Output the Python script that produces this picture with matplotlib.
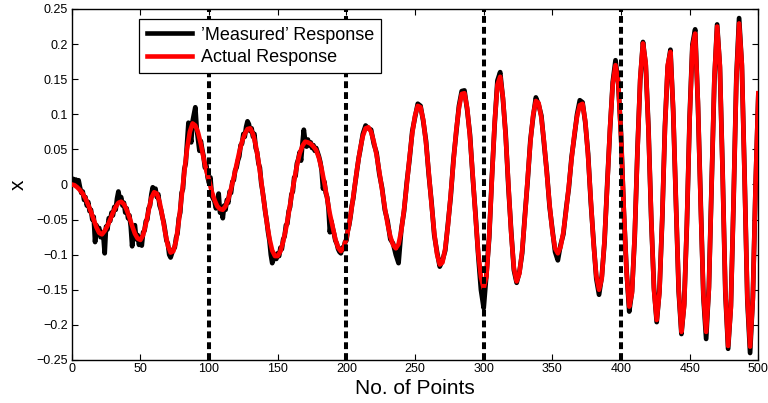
import numpy as np
import matplotlib
matplotlib.use("Agg")
import matplotlib.pyplot as plt
from matplotlib.ticker import FuncFormatter

plt.rcParams['font.family'] = ['Liberation Sans', 'DejaVu Sans']

# ---------------- data ----------------
# Actual response, sampled every 2 points (0..500)
actual_x = np.arange(0, 501, 2)
actual_y = [
    0.000, -0.001, -0.004, -0.008, -0.013, -0.020, -0.029, -0.039, -0.050, -0.061,
    -0.069, -0.071, -0.066, -0.059, -0.050, -0.040, -0.032, -0.026, -0.0245, -0.028,
    -0.036, -0.047, -0.059, -0.070, -0.077, -0.079, -0.072, -0.056, -0.037, -0.019,
    -0.011, -0.013, -0.025, -0.045, -0.068, -0.087, -0.097, -0.095, -0.080, -0.052,
    -0.018, 0.018, 0.051, 0.075, 0.087, 0.084, 0.074, 0.058, 0.038, 0.020,
    0.006, -0.010, -0.022, -0.031, -0.035, -0.036, -0.031, -0.021, -0.006, 0.010,
    0.028, 0.046, 0.061, 0.072, 0.079, 0.080, 0.072, 0.056, 0.033, 0.005,
    -0.025, -0.053, -0.077, -0.094, -0.102, -0.102, -0.095, -0.081, -0.063, -0.041,
    -0.017, 0.006, 0.027, 0.044, 0.055, 0.061, 0.060, 0.058, 0.054, 0.049,
    0.038, 0.022, 0.002, -0.020, -0.042, -0.060, -0.078, -0.090, -0.095, -0.090,
    -0.077, -0.057, -0.032, -0.004, 0.025, 0.050, 0.069, 0.080, 0.0815, 0.075,
    0.061, 0.042, 0.018, -0.008, -0.033, -0.056, -0.074, -0.086, -0.091, -0.085,
    -0.066, -0.036, 0.000, 0.039, 0.073, 0.098, 0.112, 0.110, 0.092, 0.059,
    0.017, -0.028, -0.069, -0.099, -0.114, -0.111, -0.091, -0.058, -0.014, 0.033,
    0.077, 0.109, 0.129, 0.130, 0.109, 0.068, 0.014, -0.044, -0.097, -0.132,
    -0.148, -0.131, -0.073, 0.009, 0.089, 0.142, 0.1535, 0.124, 0.069, -0.001,
    -0.069, -0.119, -0.138, -0.127, -0.095, -0.047, 0.008, 0.060, 0.099, 0.119,
    0.116, 0.095, 0.060, 0.015, -0.029, -0.067, -0.091, -0.098, -0.089, -0.068,
    -0.038, -0.002, 0.036, 0.071, 0.097, 0.113, 0.115, 0.090, 0.041, -0.022,
    -0.084, -0.130, -0.150, -0.134, -0.079, -0.001, 0.081, 0.143, 0.170, 0.146,
    0.069, -0.033, -0.124, -0.174, -0.155, -0.071, 0.047, 0.152, 0.201, 0.173,
    0.077, -0.046, -0.150, -0.193, -0.154, -0.048, 0.080, 0.170, 0.189, 0.107,
    -0.025, -0.149, -0.210, -0.173, -0.053, 0.094, 0.196, 0.215, 0.118, -0.028,
    -0.157, -0.210, -0.149, -0.001, 0.152, 0.225, 0.170, 0.015, -0.152, -0.230,
    -0.176, -0.019, 0.149, 0.2295, 0.172, 0.009, -0.161, -0.231, -0.164, 0.000,
    0.130,
]

# 'Measured' response: every point for 0..210, every 2 points for 212..500
measured_x = np.concatenate([np.arange(0, 211, 1), np.arange(212, 501, 2)])
measured_y = [
    0.004, 0.008, 0.003, 0.007, 0.002, 0.006, -0.004, -0.012, -0.010, -0.022,
    -0.018, -0.030, -0.025, -0.038, -0.036, -0.050, -0.046, -0.082, -0.058, -0.066,
    -0.062, -0.075, -0.068, -0.072, -0.098, -0.060, -0.064, -0.048, -0.052, -0.040,
    -0.044, -0.032, -0.036, -0.020, -0.010, -0.022, -0.018, -0.030, -0.026, -0.040,
    -0.034, -0.048, -0.044, -0.060, -0.088, -0.062, -0.058, -0.078, -0.072, -0.086,
    -0.076, -0.087, -0.068, -0.066, -0.052, -0.050, -0.034, -0.030, -0.014, -0.004,
    -0.012, -0.006, -0.018, -0.014, -0.030, -0.036, -0.046, -0.054, -0.066, -0.080,
    -0.084, -0.100, -0.104, -0.098, -0.092, -0.090, -0.076, -0.070, -0.048, -0.040,
    -0.012, -0.006, 0.022, 0.030, 0.060, 0.088, 0.072, 0.060, 0.090, 0.100,
    0.110, 0.080, 0.064, 0.048, 0.062, 0.050, 0.040, 0.024, 0.028, 0.010,
    0.002, 0.010, -0.016, -0.020, -0.024, -0.034, -0.028, -0.013, -0.040, -0.034,
    -0.048, -0.030, -0.036, -0.022, -0.026, -0.010, -0.012, 0.004, 0.006, 0.020,
    0.024, 0.034, 0.040, 0.056, 0.058, 0.072, 0.068, 0.082, 0.090, 0.086,
    0.076, 0.080, 0.068, 0.072, 0.052, 0.046, 0.030, 0.024, 0.002, -0.010,
    -0.024, -0.040, -0.052, -0.068, -0.080, -0.100, -0.112, -0.106, -0.100, -0.106,
    -0.098, -0.102, -0.090, -0.092, -0.078, -0.074, -0.058, -0.056, -0.038, -0.032,
    -0.014, -0.010, 0.010, 0.012, 0.030, 0.036, 0.046, 0.034, 0.058, 0.078,
    0.062, 0.054, 0.064, 0.056, 0.060, 0.052, 0.056, 0.048, 0.052, 0.046,
    0.040, 0.032, 0.020, -0.006, 0.004, -0.012, -0.018, -0.034, -0.068, -0.052,
    -0.062, -0.070, -0.080, -0.084, -0.092, -0.096, -0.098, -0.090, -0.092, -0.082,
    -0.080, -0.066, -0.058, -0.046, -0.030, -0.020, -0.004, 0.010, 0.024, 0.038,
    0.048,
    # 212 .. 500 step 2
    0.072, 0.084, 0.080, 0.078, 0.058, 0.045, 0.015, -0.005, -0.036, -0.052,
    -0.078, -0.084, -0.100, -0.112, -0.064, -0.038, 0.003, 0.036, 0.076, 0.096,
    0.115, 0.112, 0.090, 0.062, 0.014, -0.025, -0.072, -0.096, -0.117, -0.108,
    -0.094, -0.055, -0.017, 0.036, 0.074, 0.112, 0.133, 0.134, 0.106, 0.071,
    0.011, -0.041, -0.100, -0.150, -0.176, -0.128, -0.076, 0.012, 0.086, 0.148,
    0.160, 0.122, 0.072, -0.004, -0.066, -0.122, -0.140, -0.125, -0.098, -0.044,
    0.005, 0.063, 0.096, 0.124, 0.114, 0.098, 0.057, 0.018, -0.032, -0.064,
    -0.096, -0.108, -0.086, -0.071, -0.035, -0.005, 0.039, 0.068, 0.100, 0.120,
    0.117, 0.088, 0.044, -0.025, -0.081, -0.134, -0.157, -0.131, -0.082, 0.002,
    0.078, 0.146, 0.177, 0.143, 0.072, -0.036, -0.121, -0.181, -0.152, -0.074,
    0.050, 0.149, 0.203, 0.170, 0.080, -0.049, -0.147, -0.196, -0.151, -0.051,
    0.083, 0.167, 0.192, 0.104, -0.022, -0.152, -0.213, -0.170, -0.056, 0.097,
    0.199, 0.221, 0.115, -0.025, -0.160, -0.220, -0.146, 0.002, 0.149, 0.228,
    0.167, 0.018, -0.155, -0.234, -0.173, -0.022, 0.152, 0.237, 0.169, 0.012,
    -0.164, -0.240, -0.161, -0.003, 0.127,
]

segment_bounds = [100, 200, 300, 400]
x_ticks = [0, 50, 100, 150, 200, 250, 300, 350, 400, 450, 500]
y_ticks = [-0.25, -0.2, -0.15, -0.1, -0.05, 0, 0.05, 0.1, 0.15, 0.2, 0.25]
legend_labels = ["\u2019Measured\u2019 Response", "Actual Response"]

# ---------------- figure ----------------
fig = plt.figure(figsize=(7.68, 4.03), dpi=100)
ax = fig.add_axes([0.0934, 0.1067, 0.8940, 0.8710])

ax.plot(measured_x, measured_y, color='black', lw=3.4, solid_joinstyle='round',
        label=legend_labels[0], zorder=2)
ax.plot(actual_x, actual_y, color='red', lw=3.3, solid_joinstyle='round',
        label=legend_labels[1], zorder=3)
for b in segment_bounds:
    ax.axvline(b, color='black', lw=2.9, dashes=[1.7, 1.0], zorder=4)

ax.set_xlim(0, 500)
ax.set_ylim(-0.25, 0.25)
ax.set_xticks(x_ticks)
ax.set_yticks(y_ticks)


def yfmt(v, pos):
    if abs(v) < 1e-9:
        return "0"
    return f"{round(v, 3):g}".replace('-', '\u2212')


ax.yaxis.set_major_formatter(FuncFormatter(yfmt))
ax.tick_params(direction='in', length=4, width=0.8, labelsize=9,
               top=True, right=True, pad=3)
ax.tick_params(axis='x', pad=2)
for s in ax.spines.values():
    s.set_linewidth(1.0)

ax.set_xlabel("No. of Points", fontsize=15, labelpad=3)
ax.set_ylabel("x", fontsize=15, labelpad=6, rotation=90)

leg = ax.legend(loc='upper left', bbox_to_anchor=(0.0985, 0.9706),
                borderaxespad=0, fontsize=13, frameon=True, fancybox=False,
                framealpha=1.0, facecolor='white',
                edgecolor='black', handlelength=2.5, handletextpad=0.5,
                borderpad=0.4, labelspacing=0.3)
leg.get_frame().set_linewidth(0.9)
leg.set_zorder(5)
for h in leg.get_lines():
    h.set_linewidth(3.3)

fig.savefig("out.png", dpi=100)
